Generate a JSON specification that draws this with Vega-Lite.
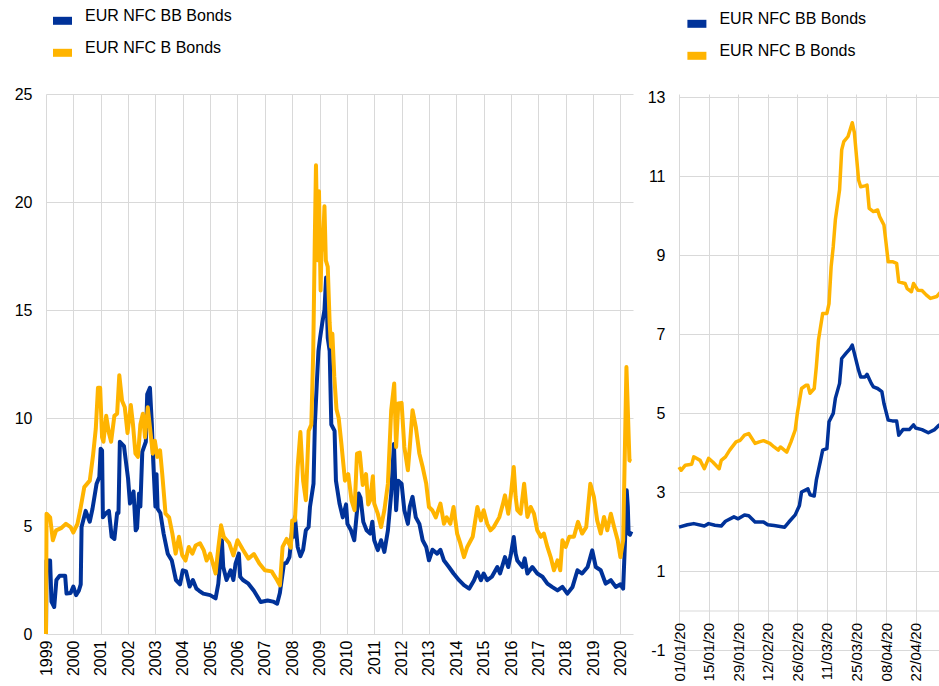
{
  "$schema": "https://vega.github.io/schema/vega-lite/v6.json",
  "background": "white",
  "padding": {"left": 14, "top": 7, "right": 0, "bottom": 0},
  "spacing": 13,
  "config": {
    "font": "Liberation Sans",
    "view": {"stroke": null},
    "axis": {"labelFont": "Liberation Sans", "labelFontSize": 16, "labelColor": "#000000", "gridColor": "#d9d9d9", "gridWidth": 1, "domain": false, "ticks": false, "title": null},
    "legend": {"orient": "none", "direction": "vertical", "title": null, "symbolType": "stroke", "symbolSize": 361, "symbolStrokeWidth": 8, "labelFont": "Liberation Sans", "labelFontSize": 16, "labelColor": "#000000", "labelOffset": 9, "rowPadding": -1, "padding": 0, "labelBaseline": "alphabetic"}
  },
  "resolve": {"legend": {"color": "independent"}},
  "datasets": {
    "hist": [
      {"s": "EUR NFC BB Bonds", "t": 1999.0, "v": 0},
      {"s": "EUR NFC BB Bonds", "t": 1999.02, "v": 3.4},
      {"s": "EUR NFC BB Bonds", "t": 1999.15, "v": 3.4},
      {"s": "EUR NFC BB Bonds", "t": 1999.2, "v": 1.5},
      {"s": "EUR NFC BB Bonds", "t": 1999.3, "v": 1.25},
      {"s": "EUR NFC BB Bonds", "t": 1999.38, "v": 2.5},
      {"s": "EUR NFC BB Bonds", "t": 1999.5, "v": 2.7},
      {"s": "EUR NFC BB Bonds", "t": 1999.7, "v": 2.7},
      {"s": "EUR NFC BB Bonds", "t": 1999.75, "v": 1.87},
      {"s": "EUR NFC BB Bonds", "t": 1999.9, "v": 1.9},
      {"s": "EUR NFC BB Bonds", "t": 2000.0, "v": 2.2},
      {"s": "EUR NFC BB Bonds", "t": 2000.1, "v": 1.8},
      {"s": "EUR NFC BB Bonds", "t": 2000.2, "v": 2.0},
      {"s": "EUR NFC BB Bonds", "t": 2000.27, "v": 2.3},
      {"s": "EUR NFC BB Bonds", "t": 2000.3, "v": 4.95},
      {"s": "EUR NFC BB Bonds", "t": 2000.45, "v": 5.7},
      {"s": "EUR NFC BB Bonds", "t": 2000.6, "v": 5.2},
      {"s": "EUR NFC BB Bonds", "t": 2000.7, "v": 5.8},
      {"s": "EUR NFC BB Bonds", "t": 2000.85, "v": 6.96},
      {"s": "EUR NFC BB Bonds", "t": 2000.95, "v": 7.27},
      {"s": "EUR NFC BB Bonds", "t": 2001.0, "v": 8.58},
      {"s": "EUR NFC BB Bonds", "t": 2001.05, "v": 8.5},
      {"s": "EUR NFC BB Bonds", "t": 2001.08, "v": 5.4},
      {"s": "EUR NFC BB Bonds", "t": 2001.2, "v": 5.6},
      {"s": "EUR NFC BB Bonds", "t": 2001.3, "v": 5.7},
      {"s": "EUR NFC BB Bonds", "t": 2001.4, "v": 4.5},
      {"s": "EUR NFC BB Bonds", "t": 2001.5, "v": 4.4},
      {"s": "EUR NFC BB Bonds", "t": 2001.6, "v": 5.6},
      {"s": "EUR NFC BB Bonds", "t": 2001.65, "v": 5.6},
      {"s": "EUR NFC BB Bonds", "t": 2001.7, "v": 8.9},
      {"s": "EUR NFC BB Bonds", "t": 2001.85, "v": 8.7},
      {"s": "EUR NFC BB Bonds", "t": 2002.0, "v": 7.2},
      {"s": "EUR NFC BB Bonds", "t": 2002.07, "v": 6.04},
      {"s": "EUR NFC BB Bonds", "t": 2002.2, "v": 6.6},
      {"s": "EUR NFC BB Bonds", "t": 2002.28, "v": 4.8},
      {"s": "EUR NFC BB Bonds", "t": 2002.33, "v": 4.9},
      {"s": "EUR NFC BB Bonds", "t": 2002.4, "v": 6.5},
      {"s": "EUR NFC BB Bonds", "t": 2002.45, "v": 5.9},
      {"s": "EUR NFC BB Bonds", "t": 2002.52, "v": 8.43},
      {"s": "EUR NFC BB Bonds", "t": 2002.65, "v": 8.9},
      {"s": "EUR NFC BB Bonds", "t": 2002.7, "v": 11.1},
      {"s": "EUR NFC BB Bonds", "t": 2002.8, "v": 11.4},
      {"s": "EUR NFC BB Bonds", "t": 2002.87, "v": 9.7},
      {"s": "EUR NFC BB Bonds", "t": 2002.92, "v": 8.0},
      {"s": "EUR NFC BB Bonds", "t": 2003.0, "v": 5.9},
      {"s": "EUR NFC BB Bonds", "t": 2003.04, "v": 7.4},
      {"s": "EUR NFC BB Bonds", "t": 2003.08, "v": 5.8},
      {"s": "EUR NFC BB Bonds", "t": 2003.18, "v": 5.6},
      {"s": "EUR NFC BB Bonds", "t": 2003.3, "v": 4.65},
      {"s": "EUR NFC BB Bonds", "t": 2003.45, "v": 3.72},
      {"s": "EUR NFC BB Bonds", "t": 2003.6, "v": 3.4},
      {"s": "EUR NFC BB Bonds", "t": 2003.75, "v": 2.5},
      {"s": "EUR NFC BB Bonds", "t": 2003.9, "v": 2.3},
      {"s": "EUR NFC BB Bonds", "t": 2004.0, "v": 2.95},
      {"s": "EUR NFC BB Bonds", "t": 2004.12, "v": 2.9},
      {"s": "EUR NFC BB Bonds", "t": 2004.25, "v": 2.2},
      {"s": "EUR NFC BB Bonds", "t": 2004.37, "v": 2.5},
      {"s": "EUR NFC BB Bonds", "t": 2004.5, "v": 2.1},
      {"s": "EUR NFC BB Bonds", "t": 2004.6, "v": 2.0},
      {"s": "EUR NFC BB Bonds", "t": 2004.75, "v": 1.87},
      {"s": "EUR NFC BB Bonds", "t": 2005.0, "v": 1.8},
      {"s": "EUR NFC BB Bonds", "t": 2005.2, "v": 1.65},
      {"s": "EUR NFC BB Bonds", "t": 2005.3, "v": 2.33},
      {"s": "EUR NFC BB Bonds", "t": 2005.43, "v": 4.34},
      {"s": "EUR NFC BB Bonds", "t": 2005.48, "v": 3.1},
      {"s": "EUR NFC BB Bonds", "t": 2005.6, "v": 2.5},
      {"s": "EUR NFC BB Bonds", "t": 2005.75, "v": 2.95},
      {"s": "EUR NFC BB Bonds", "t": 2005.85, "v": 2.5},
      {"s": "EUR NFC BB Bonds", "t": 2005.93, "v": 3.26},
      {"s": "EUR NFC BB Bonds", "t": 2006.05, "v": 3.72},
      {"s": "EUR NFC BB Bonds", "t": 2006.1, "v": 2.65},
      {"s": "EUR NFC BB Bonds", "t": 2006.2, "v": 2.5},
      {"s": "EUR NFC BB Bonds", "t": 2006.4, "v": 2.33},
      {"s": "EUR NFC BB Bonds", "t": 2006.6, "v": 2.0},
      {"s": "EUR NFC BB Bonds", "t": 2006.85, "v": 1.48},
      {"s": "EUR NFC BB Bonds", "t": 2007.1, "v": 1.55},
      {"s": "EUR NFC BB Bonds", "t": 2007.3, "v": 1.5},
      {"s": "EUR NFC BB Bonds", "t": 2007.45, "v": 1.4},
      {"s": "EUR NFC BB Bonds", "t": 2007.55, "v": 1.9},
      {"s": "EUR NFC BB Bonds", "t": 2007.7, "v": 3.26},
      {"s": "EUR NFC BB Bonds", "t": 2007.8, "v": 3.3},
      {"s": "EUR NFC BB Bonds", "t": 2007.9, "v": 3.56},
      {"s": "EUR NFC BB Bonds", "t": 2008.0, "v": 4.8},
      {"s": "EUR NFC BB Bonds", "t": 2008.05, "v": 4.5},
      {"s": "EUR NFC BB Bonds", "t": 2008.1, "v": 5.42},
      {"s": "EUR NFC BB Bonds", "t": 2008.2, "v": 4.03},
      {"s": "EUR NFC BB Bonds", "t": 2008.3, "v": 3.6},
      {"s": "EUR NFC BB Bonds", "t": 2008.4, "v": 3.9},
      {"s": "EUR NFC BB Bonds", "t": 2008.5, "v": 4.8},
      {"s": "EUR NFC BB Bonds", "t": 2008.6, "v": 4.95},
      {"s": "EUR NFC BB Bonds", "t": 2008.65, "v": 5.88},
      {"s": "EUR NFC BB Bonds", "t": 2008.78, "v": 6.96},
      {"s": "EUR NFC BB Bonds", "t": 2008.83, "v": 9.7},
      {"s": "EUR NFC BB Bonds", "t": 2008.9, "v": 11.6},
      {"s": "EUR NFC BB Bonds", "t": 2008.96, "v": 13.1},
      {"s": "EUR NFC BB Bonds", "t": 2009.02, "v": 13.7},
      {"s": "EUR NFC BB Bonds", "t": 2009.1, "v": 14.4},
      {"s": "EUR NFC BB Bonds", "t": 2009.18, "v": 15.0},
      {"s": "EUR NFC BB Bonds", "t": 2009.24, "v": 16.5},
      {"s": "EUR NFC BB Bonds", "t": 2009.3, "v": 13.7},
      {"s": "EUR NFC BB Bonds", "t": 2009.37, "v": 13.1},
      {"s": "EUR NFC BB Bonds", "t": 2009.43, "v": 9.7},
      {"s": "EUR NFC BB Bonds", "t": 2009.55, "v": 9.4},
      {"s": "EUR NFC BB Bonds", "t": 2009.6, "v": 7.1},
      {"s": "EUR NFC BB Bonds", "t": 2009.73, "v": 6.04},
      {"s": "EUR NFC BB Bonds", "t": 2009.85, "v": 5.4},
      {"s": "EUR NFC BB Bonds", "t": 2009.97, "v": 6.0},
      {"s": "EUR NFC BB Bonds", "t": 2010.02, "v": 5.1},
      {"s": "EUR NFC BB Bonds", "t": 2010.15, "v": 4.8},
      {"s": "EUR NFC BB Bonds", "t": 2010.27, "v": 4.34},
      {"s": "EUR NFC BB Bonds", "t": 2010.43, "v": 6.5},
      {"s": "EUR NFC BB Bonds", "t": 2010.5, "v": 6.3},
      {"s": "EUR NFC BB Bonds", "t": 2010.6, "v": 5.19},
      {"s": "EUR NFC BB Bonds", "t": 2010.72, "v": 4.8},
      {"s": "EUR NFC BB Bonds", "t": 2010.85, "v": 4.65},
      {"s": "EUR NFC BB Bonds", "t": 2010.93, "v": 5.2},
      {"s": "EUR NFC BB Bonds", "t": 2011.0, "v": 4.34},
      {"s": "EUR NFC BB Bonds", "t": 2011.13, "v": 3.88},
      {"s": "EUR NFC BB Bonds", "t": 2011.25, "v": 4.34},
      {"s": "EUR NFC BB Bonds", "t": 2011.37, "v": 3.8},
      {"s": "EUR NFC BB Bonds", "t": 2011.5, "v": 4.8},
      {"s": "EUR NFC BB Bonds", "t": 2011.62, "v": 6.5},
      {"s": "EUR NFC BB Bonds", "t": 2011.72, "v": 8.8},
      {"s": "EUR NFC BB Bonds", "t": 2011.8, "v": 5.73},
      {"s": "EUR NFC BB Bonds", "t": 2011.87, "v": 7.1},
      {"s": "EUR NFC BB Bonds", "t": 2012.0, "v": 6.96},
      {"s": "EUR NFC BB Bonds", "t": 2012.1, "v": 5.73},
      {"s": "EUR NFC BB Bonds", "t": 2012.23, "v": 5.1},
      {"s": "EUR NFC BB Bonds", "t": 2012.3, "v": 5.9},
      {"s": "EUR NFC BB Bonds", "t": 2012.4, "v": 6.35},
      {"s": "EUR NFC BB Bonds", "t": 2012.52, "v": 5.4},
      {"s": "EUR NFC BB Bonds", "t": 2012.65, "v": 5.1},
      {"s": "EUR NFC BB Bonds", "t": 2012.77, "v": 4.34},
      {"s": "EUR NFC BB Bonds", "t": 2012.9, "v": 4.03},
      {"s": "EUR NFC BB Bonds", "t": 2013.0, "v": 3.41},
      {"s": "EUR NFC BB Bonds", "t": 2013.13, "v": 3.9},
      {"s": "EUR NFC BB Bonds", "t": 2013.3, "v": 3.72},
      {"s": "EUR NFC BB Bonds", "t": 2013.42, "v": 3.9},
      {"s": "EUR NFC BB Bonds", "t": 2013.55, "v": 3.4},
      {"s": "EUR NFC BB Bonds", "t": 2013.73, "v": 3.1},
      {"s": "EUR NFC BB Bonds", "t": 2013.9, "v": 2.8},
      {"s": "EUR NFC BB Bonds", "t": 2014.1, "v": 2.49},
      {"s": "EUR NFC BB Bonds", "t": 2014.28, "v": 2.26},
      {"s": "EUR NFC BB Bonds", "t": 2014.47, "v": 2.1},
      {"s": "EUR NFC BB Bonds", "t": 2014.65, "v": 2.49},
      {"s": "EUR NFC BB Bonds", "t": 2014.77, "v": 2.87},
      {"s": "EUR NFC BB Bonds", "t": 2014.9, "v": 2.49},
      {"s": "EUR NFC BB Bonds", "t": 2015.0, "v": 2.8},
      {"s": "EUR NFC BB Bonds", "t": 2015.13, "v": 2.49},
      {"s": "EUR NFC BB Bonds", "t": 2015.3, "v": 2.65},
      {"s": "EUR NFC BB Bonds", "t": 2015.5, "v": 3.1},
      {"s": "EUR NFC BB Bonds", "t": 2015.6, "v": 2.8},
      {"s": "EUR NFC BB Bonds", "t": 2015.78, "v": 3.56},
      {"s": "EUR NFC BB Bonds", "t": 2015.9, "v": 3.1},
      {"s": "EUR NFC BB Bonds", "t": 2016.0, "v": 3.72},
      {"s": "EUR NFC BB Bonds", "t": 2016.1, "v": 4.49},
      {"s": "EUR NFC BB Bonds", "t": 2016.17, "v": 3.72},
      {"s": "EUR NFC BB Bonds", "t": 2016.23, "v": 3.4},
      {"s": "EUR NFC BB Bonds", "t": 2016.42, "v": 3.1},
      {"s": "EUR NFC BB Bonds", "t": 2016.5, "v": 3.5},
      {"s": "EUR NFC BB Bonds", "t": 2016.6, "v": 2.8},
      {"s": "EUR NFC BB Bonds", "t": 2016.78, "v": 3.1},
      {"s": "EUR NFC BB Bonds", "t": 2016.96, "v": 2.8},
      {"s": "EUR NFC BB Bonds", "t": 2017.15, "v": 2.65},
      {"s": "EUR NFC BB Bonds", "t": 2017.33, "v": 2.33},
      {"s": "EUR NFC BB Bonds", "t": 2017.5, "v": 2.18},
      {"s": "EUR NFC BB Bonds", "t": 2017.7, "v": 2.02},
      {"s": "EUR NFC BB Bonds", "t": 2017.88, "v": 2.18},
      {"s": "EUR NFC BB Bonds", "t": 2018.06, "v": 1.87},
      {"s": "EUR NFC BB Bonds", "t": 2018.25, "v": 2.18},
      {"s": "EUR NFC BB Bonds", "t": 2018.43, "v": 2.95},
      {"s": "EUR NFC BB Bonds", "t": 2018.6, "v": 2.8},
      {"s": "EUR NFC BB Bonds", "t": 2018.8, "v": 3.1},
      {"s": "EUR NFC BB Bonds", "t": 2018.97, "v": 3.87},
      {"s": "EUR NFC BB Bonds", "t": 2019.1, "v": 3.1},
      {"s": "EUR NFC BB Bonds", "t": 2019.28, "v": 2.95},
      {"s": "EUR NFC BB Bonds", "t": 2019.46, "v": 2.33},
      {"s": "EUR NFC BB Bonds", "t": 2019.65, "v": 2.49},
      {"s": "EUR NFC BB Bonds", "t": 2019.83, "v": 2.18},
      {"s": "EUR NFC BB Bonds", "t": 2020.0, "v": 2.3},
      {"s": "EUR NFC BB Bonds", "t": 2020.1, "v": 2.1},
      {"s": "EUR NFC BB Bonds", "t": 2020.15, "v": 3.7},
      {"s": "EUR NFC BB Bonds", "t": 2020.2, "v": 5.4},
      {"s": "EUR NFC BB Bonds", "t": 2020.23, "v": 6.65},
      {"s": "EUR NFC BB Bonds", "t": 2020.27, "v": 5.9},
      {"s": "EUR NFC BB Bonds", "t": 2020.3, "v": 4.65},
      {"s": "EUR NFC BB Bonds", "t": 2020.35, "v": 4.6},
      {"s": "EUR NFC BB Bonds", "t": 2020.4, "v": 4.75},
      {"s": "EUR NFC B Bonds", "t": 1999.0, "v": 0},
      {"s": "EUR NFC B Bonds", "t": 1999.02, "v": 5.57},
      {"s": "EUR NFC B Bonds", "t": 1999.15, "v": 5.4},
      {"s": "EUR NFC B Bonds", "t": 1999.25, "v": 4.34},
      {"s": "EUR NFC B Bonds", "t": 1999.37, "v": 4.8},
      {"s": "EUR NFC B Bonds", "t": 1999.55, "v": 4.9},
      {"s": "EUR NFC B Bonds", "t": 1999.73, "v": 5.1},
      {"s": "EUR NFC B Bonds", "t": 1999.9, "v": 4.95},
      {"s": "EUR NFC B Bonds", "t": 2000.0, "v": 4.7},
      {"s": "EUR NFC B Bonds", "t": 2000.15, "v": 5.1},
      {"s": "EUR NFC B Bonds", "t": 2000.25, "v": 5.73},
      {"s": "EUR NFC B Bonds", "t": 2000.4, "v": 6.8},
      {"s": "EUR NFC B Bonds", "t": 2000.6, "v": 7.1},
      {"s": "EUR NFC B Bonds", "t": 2000.72, "v": 8.27},
      {"s": "EUR NFC B Bonds", "t": 2000.82, "v": 9.5},
      {"s": "EUR NFC B Bonds", "t": 2000.9, "v": 11.4},
      {"s": "EUR NFC B Bonds", "t": 2000.98, "v": 11.4},
      {"s": "EUR NFC B Bonds", "t": 2001.05, "v": 9.1},
      {"s": "EUR NFC B Bonds", "t": 2001.1, "v": 8.9},
      {"s": "EUR NFC B Bonds", "t": 2001.2, "v": 10.1},
      {"s": "EUR NFC B Bonds", "t": 2001.3, "v": 9.3},
      {"s": "EUR NFC B Bonds", "t": 2001.38, "v": 8.9},
      {"s": "EUR NFC B Bonds", "t": 2001.5, "v": 10.1},
      {"s": "EUR NFC B Bonds", "t": 2001.6, "v": 10.2},
      {"s": "EUR NFC B Bonds", "t": 2001.68, "v": 11.98},
      {"s": "EUR NFC B Bonds", "t": 2001.78, "v": 10.8},
      {"s": "EUR NFC B Bonds", "t": 2001.88, "v": 10.5},
      {"s": "EUR NFC B Bonds", "t": 2001.98, "v": 9.3},
      {"s": "EUR NFC B Bonds", "t": 2002.1, "v": 10.6},
      {"s": "EUR NFC B Bonds", "t": 2002.18, "v": 9.7},
      {"s": "EUR NFC B Bonds", "t": 2002.27, "v": 8.35},
      {"s": "EUR NFC B Bonds", "t": 2002.36, "v": 8.2},
      {"s": "EUR NFC B Bonds", "t": 2002.45, "v": 9.7},
      {"s": "EUR NFC B Bonds", "t": 2002.54, "v": 10.2},
      {"s": "EUR NFC B Bonds", "t": 2002.62, "v": 9.1},
      {"s": "EUR NFC B Bonds", "t": 2002.72, "v": 10.5},
      {"s": "EUR NFC B Bonds", "t": 2002.78, "v": 9.8},
      {"s": "EUR NFC B Bonds", "t": 2002.84, "v": 9.1},
      {"s": "EUR NFC B Bonds", "t": 2002.9, "v": 8.35},
      {"s": "EUR NFC B Bonds", "t": 2002.98, "v": 8.95},
      {"s": "EUR NFC B Bonds", "t": 2003.07, "v": 8.2},
      {"s": "EUR NFC B Bonds", "t": 2003.17, "v": 8.5},
      {"s": "EUR NFC B Bonds", "t": 2003.25, "v": 7.4},
      {"s": "EUR NFC B Bonds", "t": 2003.37, "v": 5.57},
      {"s": "EUR NFC B Bonds", "t": 2003.5, "v": 5.4},
      {"s": "EUR NFC B Bonds", "t": 2003.62, "v": 4.65},
      {"s": "EUR NFC B Bonds", "t": 2003.74, "v": 3.72},
      {"s": "EUR NFC B Bonds", "t": 2003.86, "v": 4.5},
      {"s": "EUR NFC B Bonds", "t": 2003.98, "v": 3.65},
      {"s": "EUR NFC B Bonds", "t": 2004.1, "v": 3.4},
      {"s": "EUR NFC B Bonds", "t": 2004.22, "v": 4.03},
      {"s": "EUR NFC B Bonds", "t": 2004.35, "v": 3.72},
      {"s": "EUR NFC B Bonds", "t": 2004.47, "v": 4.1},
      {"s": "EUR NFC B Bonds", "t": 2004.63, "v": 4.2},
      {"s": "EUR NFC B Bonds", "t": 2004.77, "v": 3.87},
      {"s": "EUR NFC B Bonds", "t": 2004.87, "v": 3.4},
      {"s": "EUR NFC B Bonds", "t": 2005.0, "v": 3.72},
      {"s": "EUR NFC B Bonds", "t": 2005.2, "v": 2.8},
      {"s": "EUR NFC B Bonds", "t": 2005.3, "v": 4.0},
      {"s": "EUR NFC B Bonds", "t": 2005.4, "v": 5.03},
      {"s": "EUR NFC B Bonds", "t": 2005.5, "v": 4.5},
      {"s": "EUR NFC B Bonds", "t": 2005.7, "v": 4.2},
      {"s": "EUR NFC B Bonds", "t": 2005.85, "v": 3.64},
      {"s": "EUR NFC B Bonds", "t": 2006.0, "v": 4.34},
      {"s": "EUR NFC B Bonds", "t": 2006.2, "v": 3.9},
      {"s": "EUR NFC B Bonds", "t": 2006.4, "v": 3.49},
      {"s": "EUR NFC B Bonds", "t": 2006.6, "v": 3.7},
      {"s": "EUR NFC B Bonds", "t": 2006.8, "v": 3.26},
      {"s": "EUR NFC B Bonds", "t": 2007.0, "v": 2.95},
      {"s": "EUR NFC B Bonds", "t": 2007.25, "v": 2.9},
      {"s": "EUR NFC B Bonds", "t": 2007.45, "v": 2.49},
      {"s": "EUR NFC B Bonds", "t": 2007.55, "v": 2.25},
      {"s": "EUR NFC B Bonds", "t": 2007.65, "v": 4.03},
      {"s": "EUR NFC B Bonds", "t": 2007.8, "v": 4.4},
      {"s": "EUR NFC B Bonds", "t": 2007.95, "v": 4.0},
      {"s": "EUR NFC B Bonds", "t": 2008.0, "v": 5.26},
      {"s": "EUR NFC B Bonds", "t": 2008.1, "v": 5.26},
      {"s": "EUR NFC B Bonds", "t": 2008.2, "v": 7.73},
      {"s": "EUR NFC B Bonds", "t": 2008.3, "v": 9.35},
      {"s": "EUR NFC B Bonds", "t": 2008.4, "v": 7.1},
      {"s": "EUR NFC B Bonds", "t": 2008.5, "v": 6.19},
      {"s": "EUR NFC B Bonds", "t": 2008.6, "v": 9.4},
      {"s": "EUR NFC B Bonds", "t": 2008.7, "v": 9.7},
      {"s": "EUR NFC B Bonds", "t": 2008.77, "v": 13.1},
      {"s": "EUR NFC B Bonds", "t": 2008.83, "v": 18.5},
      {"s": "EUR NFC B Bonds", "t": 2008.87, "v": 21.7},
      {"s": "EUR NFC B Bonds", "t": 2008.93, "v": 17.3},
      {"s": "EUR NFC B Bonds", "t": 2008.98, "v": 20.5},
      {"s": "EUR NFC B Bonds", "t": 2009.04, "v": 15.9},
      {"s": "EUR NFC B Bonds", "t": 2009.08, "v": 18.3},
      {"s": "EUR NFC B Bonds", "t": 2009.12, "v": 17.8},
      {"s": "EUR NFC B Bonds", "t": 2009.18, "v": 19.8},
      {"s": "EUR NFC B Bonds", "t": 2009.23, "v": 17.3},
      {"s": "EUR NFC B Bonds", "t": 2009.3, "v": 17.0},
      {"s": "EUR NFC B Bonds", "t": 2009.37, "v": 14.4},
      {"s": "EUR NFC B Bonds", "t": 2009.42, "v": 13.3},
      {"s": "EUR NFC B Bonds", "t": 2009.47, "v": 13.9},
      {"s": "EUR NFC B Bonds", "t": 2009.54, "v": 11.9},
      {"s": "EUR NFC B Bonds", "t": 2009.62, "v": 10.4},
      {"s": "EUR NFC B Bonds", "t": 2009.7, "v": 10.0},
      {"s": "EUR NFC B Bonds", "t": 2009.8, "v": 8.8},
      {"s": "EUR NFC B Bonds", "t": 2009.93, "v": 7.1},
      {"s": "EUR NFC B Bonds", "t": 2010.05, "v": 7.4},
      {"s": "EUR NFC B Bonds", "t": 2010.17, "v": 6.19},
      {"s": "EUR NFC B Bonds", "t": 2010.28, "v": 5.73},
      {"s": "EUR NFC B Bonds", "t": 2010.37, "v": 8.35},
      {"s": "EUR NFC B Bonds", "t": 2010.47, "v": 8.4},
      {"s": "EUR NFC B Bonds", "t": 2010.58, "v": 6.9},
      {"s": "EUR NFC B Bonds", "t": 2010.7, "v": 7.4},
      {"s": "EUR NFC B Bonds", "t": 2010.78, "v": 6.0},
      {"s": "EUR NFC B Bonds", "t": 2010.85, "v": 6.19},
      {"s": "EUR NFC B Bonds", "t": 2010.95, "v": 7.3},
      {"s": "EUR NFC B Bonds", "t": 2011.0, "v": 6.04},
      {"s": "EUR NFC B Bonds", "t": 2011.13, "v": 5.57},
      {"s": "EUR NFC B Bonds", "t": 2011.25, "v": 4.95},
      {"s": "EUR NFC B Bonds", "t": 2011.37, "v": 5.73},
      {"s": "EUR NFC B Bonds", "t": 2011.5, "v": 6.96},
      {"s": "EUR NFC B Bonds", "t": 2011.62, "v": 10.36},
      {"s": "EUR NFC B Bonds", "t": 2011.73, "v": 11.6},
      {"s": "EUR NFC B Bonds", "t": 2011.8, "v": 8.66},
      {"s": "EUR NFC B Bonds", "t": 2011.88, "v": 10.67},
      {"s": "EUR NFC B Bonds", "t": 2012.0, "v": 10.7},
      {"s": "EUR NFC B Bonds", "t": 2012.1, "v": 8.66},
      {"s": "EUR NFC B Bonds", "t": 2012.23, "v": 7.58},
      {"s": "EUR NFC B Bonds", "t": 2012.3, "v": 8.66},
      {"s": "EUR NFC B Bonds", "t": 2012.4, "v": 10.36},
      {"s": "EUR NFC B Bonds", "t": 2012.52, "v": 9.58},
      {"s": "EUR NFC B Bonds", "t": 2012.65, "v": 8.35},
      {"s": "EUR NFC B Bonds", "t": 2012.77, "v": 7.73},
      {"s": "EUR NFC B Bonds", "t": 2012.9, "v": 6.96},
      {"s": "EUR NFC B Bonds", "t": 2013.0, "v": 5.88},
      {"s": "EUR NFC B Bonds", "t": 2013.12, "v": 5.73},
      {"s": "EUR NFC B Bonds", "t": 2013.25, "v": 5.4},
      {"s": "EUR NFC B Bonds", "t": 2013.42, "v": 6.04},
      {"s": "EUR NFC B Bonds", "t": 2013.55, "v": 5.1},
      {"s": "EUR NFC B Bonds", "t": 2013.65, "v": 5.4},
      {"s": "EUR NFC B Bonds", "t": 2013.78, "v": 5.1},
      {"s": "EUR NFC B Bonds", "t": 2013.9, "v": 5.88},
      {"s": "EUR NFC B Bonds", "t": 2014.03, "v": 4.65},
      {"s": "EUR NFC B Bonds", "t": 2014.15, "v": 4.18},
      {"s": "EUR NFC B Bonds", "t": 2014.28, "v": 3.56},
      {"s": "EUR NFC B Bonds", "t": 2014.4, "v": 4.03},
      {"s": "EUR NFC B Bonds", "t": 2014.6, "v": 4.5},
      {"s": "EUR NFC B Bonds", "t": 2014.77, "v": 5.88},
      {"s": "EUR NFC B Bonds", "t": 2014.9, "v": 5.26},
      {"s": "EUR NFC B Bonds", "t": 2015.0, "v": 5.73},
      {"s": "EUR NFC B Bonds", "t": 2015.13, "v": 5.1},
      {"s": "EUR NFC B Bonds", "t": 2015.25, "v": 4.8},
      {"s": "EUR NFC B Bonds", "t": 2015.37, "v": 4.95},
      {"s": "EUR NFC B Bonds", "t": 2015.57, "v": 5.4},
      {"s": "EUR NFC B Bonds", "t": 2015.7, "v": 6.0},
      {"s": "EUR NFC B Bonds", "t": 2015.78, "v": 6.42},
      {"s": "EUR NFC B Bonds", "t": 2015.9, "v": 5.57},
      {"s": "EUR NFC B Bonds", "t": 2016.0, "v": 6.5},
      {"s": "EUR NFC B Bonds", "t": 2016.1, "v": 7.73},
      {"s": "EUR NFC B Bonds", "t": 2016.17, "v": 6.35},
      {"s": "EUR NFC B Bonds", "t": 2016.23, "v": 5.73},
      {"s": "EUR NFC B Bonds", "t": 2016.35, "v": 5.57},
      {"s": "EUR NFC B Bonds", "t": 2016.48, "v": 6.96},
      {"s": "EUR NFC B Bonds", "t": 2016.6, "v": 5.42},
      {"s": "EUR NFC B Bonds", "t": 2016.72, "v": 5.88},
      {"s": "EUR NFC B Bonds", "t": 2016.84, "v": 5.57},
      {"s": "EUR NFC B Bonds", "t": 2016.96, "v": 4.8},
      {"s": "EUR NFC B Bonds", "t": 2017.09, "v": 4.5},
      {"s": "EUR NFC B Bonds", "t": 2017.2, "v": 4.65},
      {"s": "EUR NFC B Bonds", "t": 2017.33, "v": 4.03},
      {"s": "EUR NFC B Bonds", "t": 2017.45, "v": 3.56},
      {"s": "EUR NFC B Bonds", "t": 2017.57, "v": 2.95},
      {"s": "EUR NFC B Bonds", "t": 2017.7, "v": 3.41},
      {"s": "EUR NFC B Bonds", "t": 2017.8, "v": 2.95},
      {"s": "EUR NFC B Bonds", "t": 2017.88, "v": 4.34},
      {"s": "EUR NFC B Bonds", "t": 2018.0, "v": 4.03},
      {"s": "EUR NFC B Bonds", "t": 2018.13, "v": 4.5},
      {"s": "EUR NFC B Bonds", "t": 2018.3, "v": 4.5},
      {"s": "EUR NFC B Bonds", "t": 2018.45, "v": 5.19},
      {"s": "EUR NFC B Bonds", "t": 2018.6, "v": 4.65},
      {"s": "EUR NFC B Bonds", "t": 2018.75, "v": 4.95},
      {"s": "EUR NFC B Bonds", "t": 2018.9, "v": 6.96},
      {"s": "EUR NFC B Bonds", "t": 2019.03, "v": 6.35},
      {"s": "EUR NFC B Bonds", "t": 2019.15, "v": 5.26},
      {"s": "EUR NFC B Bonds", "t": 2019.28, "v": 4.65},
      {"s": "EUR NFC B Bonds", "t": 2019.4, "v": 5.42},
      {"s": "EUR NFC B Bonds", "t": 2019.52, "v": 4.8},
      {"s": "EUR NFC B Bonds", "t": 2019.65, "v": 5.57},
      {"s": "EUR NFC B Bonds", "t": 2019.77, "v": 4.95},
      {"s": "EUR NFC B Bonds", "t": 2019.9, "v": 4.34},
      {"s": "EUR NFC B Bonds", "t": 2020.0, "v": 3.56},
      {"s": "EUR NFC B Bonds", "t": 2020.1, "v": 4.34},
      {"s": "EUR NFC B Bonds", "t": 2020.17, "v": 8.97},
      {"s": "EUR NFC B Bonds", "t": 2020.22, "v": 12.36},
      {"s": "EUR NFC B Bonds", "t": 2020.28, "v": 10.0},
      {"s": "EUR NFC B Bonds", "t": 2020.33, "v": 8.04},
      {"s": "EUR NFC B Bonds", "t": 2020.4, "v": 8.0}
    ],
    "covid": [
      {"s": "EUR NFC BB Bonds", "date": "2020-01-01", "v": 2.11},
      {"s": "EUR NFC BB Bonds", "date": "2020-01-05", "v": 2.17},
      {"s": "EUR NFC BB Bonds", "date": "2020-01-08", "v": 2.2},
      {"s": "EUR NFC BB Bonds", "date": "2020-01-13", "v": 2.14},
      {"s": "EUR NFC BB Bonds", "date": "2020-01-15", "v": 2.2},
      {"s": "EUR NFC BB Bonds", "date": "2020-01-18", "v": 2.16},
      {"s": "EUR NFC BB Bonds", "date": "2020-01-21", "v": 2.14},
      {"s": "EUR NFC BB Bonds", "date": "2020-01-23", "v": 2.26},
      {"s": "EUR NFC BB Bonds", "date": "2020-01-27", "v": 2.37},
      {"s": "EUR NFC BB Bonds", "date": "2020-01-29", "v": 2.32},
      {"s": "EUR NFC BB Bonds", "date": "2020-02-01", "v": 2.42},
      {"s": "EUR NFC BB Bonds", "date": "2020-02-03", "v": 2.4},
      {"s": "EUR NFC BB Bonds", "date": "2020-02-06", "v": 2.24},
      {"s": "EUR NFC BB Bonds", "date": "2020-02-10", "v": 2.24},
      {"s": "EUR NFC BB Bonds", "date": "2020-02-12", "v": 2.17},
      {"s": "EUR NFC BB Bonds", "date": "2020-02-15", "v": 2.15},
      {"s": "EUR NFC BB Bonds", "date": "2020-02-20", "v": 2.11},
      {"s": "EUR NFC BB Bonds", "date": "2020-02-22", "v": 2.24},
      {"s": "EUR NFC BB Bonds", "date": "2020-02-25", "v": 2.42},
      {"s": "EUR NFC BB Bonds", "date": "2020-02-27", "v": 2.66},
      {"s": "EUR NFC BB Bonds", "date": "2020-02-28", "v": 3.0},
      {"s": "EUR NFC BB Bonds", "date": "2020-03-02", "v": 3.08},
      {"s": "EUR NFC BB Bonds", "date": "2020-03-03", "v": 2.93},
      {"s": "EUR NFC BB Bonds", "date": "2020-03-05", "v": 2.9},
      {"s": "EUR NFC BB Bonds", "date": "2020-03-06", "v": 3.3},
      {"s": "EUR NFC BB Bonds", "date": "2020-03-08", "v": 3.8},
      {"s": "EUR NFC BB Bonds", "date": "2020-03-09", "v": 4.06},
      {"s": "EUR NFC BB Bonds", "date": "2020-03-11", "v": 4.1},
      {"s": "EUR NFC BB Bonds", "date": "2020-03-12", "v": 4.78},
      {"s": "EUR NFC BB Bonds", "date": "2020-03-14", "v": 4.99},
      {"s": "EUR NFC BB Bonds", "date": "2020-03-15", "v": 5.37},
      {"s": "EUR NFC BB Bonds", "date": "2020-03-17", "v": 5.75},
      {"s": "EUR NFC BB Bonds", "date": "2020-03-18", "v": 6.38},
      {"s": "EUR NFC BB Bonds", "date": "2020-03-20", "v": 6.51},
      {"s": "EUR NFC BB Bonds", "date": "2020-03-22", "v": 6.63},
      {"s": "EUR NFC BB Bonds", "date": "2020-03-23", "v": 6.72},
      {"s": "EUR NFC BB Bonds", "date": "2020-03-24", "v": 6.51},
      {"s": "EUR NFC BB Bonds", "date": "2020-03-26", "v": 6.08},
      {"s": "EUR NFC BB Bonds", "date": "2020-03-27", "v": 5.91},
      {"s": "EUR NFC BB Bonds", "date": "2020-03-29", "v": 5.91},
      {"s": "EUR NFC BB Bonds", "date": "2020-03-30", "v": 5.98},
      {"s": "EUR NFC BB Bonds", "date": "2020-04-01", "v": 5.75},
      {"s": "EUR NFC BB Bonds", "date": "2020-04-02", "v": 5.66},
      {"s": "EUR NFC BB Bonds", "date": "2020-04-04", "v": 5.62},
      {"s": "EUR NFC BB Bonds", "date": "2020-04-06", "v": 5.54},
      {"s": "EUR NFC BB Bonds", "date": "2020-04-07", "v": 5.24},
      {"s": "EUR NFC BB Bonds", "date": "2020-04-09", "v": 4.82},
      {"s": "EUR NFC BB Bonds", "date": "2020-04-11", "v": 4.8},
      {"s": "EUR NFC BB Bonds", "date": "2020-04-13", "v": 4.8},
      {"s": "EUR NFC BB Bonds", "date": "2020-04-14", "v": 4.44},
      {"s": "EUR NFC BB Bonds", "date": "2020-04-16", "v": 4.58},
      {"s": "EUR NFC BB Bonds", "date": "2020-04-19", "v": 4.58},
      {"s": "EUR NFC BB Bonds", "date": "2020-04-21", "v": 4.7},
      {"s": "EUR NFC BB Bonds", "date": "2020-04-22", "v": 4.62},
      {"s": "EUR NFC BB Bonds", "date": "2020-04-25", "v": 4.58},
      {"s": "EUR NFC BB Bonds", "date": "2020-04-28", "v": 4.5},
      {"s": "EUR NFC BB Bonds", "date": "2020-05-01", "v": 4.58},
      {"s": "EUR NFC BB Bonds", "date": "2020-05-03", "v": 4.69},
      {"s": "EUR NFC BB Bonds", "date": "2020-05-04", "v": 4.72},
      {"s": "EUR NFC B Bonds", "date": "2020-01-01", "v": 3.63},
      {"s": "EUR NFC B Bonds", "date": "2020-01-02", "v": 3.55},
      {"s": "EUR NFC B Bonds", "date": "2020-01-04", "v": 3.68},
      {"s": "EUR NFC B Bonds", "date": "2020-01-07", "v": 3.7},
      {"s": "EUR NFC B Bonds", "date": "2020-01-08", "v": 3.89},
      {"s": "EUR NFC B Bonds", "date": "2020-01-11", "v": 3.8},
      {"s": "EUR NFC B Bonds", "date": "2020-01-13", "v": 3.59},
      {"s": "EUR NFC B Bonds", "date": "2020-01-15", "v": 3.85},
      {"s": "EUR NFC B Bonds", "date": "2020-01-17", "v": 3.76},
      {"s": "EUR NFC B Bonds", "date": "2020-01-20", "v": 3.59},
      {"s": "EUR NFC B Bonds", "date": "2020-01-21", "v": 3.8},
      {"s": "EUR NFC B Bonds", "date": "2020-01-23", "v": 3.89},
      {"s": "EUR NFC B Bonds", "date": "2020-01-25", "v": 4.06},
      {"s": "EUR NFC B Bonds", "date": "2020-01-28", "v": 4.27},
      {"s": "EUR NFC B Bonds", "date": "2020-01-30", "v": 4.31},
      {"s": "EUR NFC B Bonds", "date": "2020-02-01", "v": 4.44},
      {"s": "EUR NFC B Bonds", "date": "2020-02-03", "v": 4.48},
      {"s": "EUR NFC B Bonds", "date": "2020-02-06", "v": 4.23},
      {"s": "EUR NFC B Bonds", "date": "2020-02-08", "v": 4.27},
      {"s": "EUR NFC B Bonds", "date": "2020-02-10", "v": 4.3},
      {"s": "EUR NFC B Bonds", "date": "2020-02-13", "v": 4.23},
      {"s": "EUR NFC B Bonds", "date": "2020-02-15", "v": 4.14},
      {"s": "EUR NFC B Bonds", "date": "2020-02-17", "v": 4.06},
      {"s": "EUR NFC B Bonds", "date": "2020-02-18", "v": 4.14},
      {"s": "EUR NFC B Bonds", "date": "2020-02-21", "v": 4.01},
      {"s": "EUR NFC B Bonds", "date": "2020-02-23", "v": 4.27},
      {"s": "EUR NFC B Bonds", "date": "2020-02-25", "v": 4.57},
      {"s": "EUR NFC B Bonds", "date": "2020-02-26", "v": 4.99},
      {"s": "EUR NFC B Bonds", "date": "2020-02-28", "v": 5.62},
      {"s": "EUR NFC B Bonds", "date": "2020-03-01", "v": 5.7},
      {"s": "EUR NFC B Bonds", "date": "2020-03-02", "v": 5.7},
      {"s": "EUR NFC B Bonds", "date": "2020-03-03", "v": 5.5},
      {"s": "EUR NFC B Bonds", "date": "2020-03-05", "v": 5.62},
      {"s": "EUR NFC B Bonds", "date": "2020-03-06", "v": 6.17},
      {"s": "EUR NFC B Bonds", "date": "2020-03-07", "v": 6.84},
      {"s": "EUR NFC B Bonds", "date": "2020-03-09", "v": 7.52},
      {"s": "EUR NFC B Bonds", "date": "2020-03-11", "v": 7.52},
      {"s": "EUR NFC B Bonds", "date": "2020-03-12", "v": 7.77},
      {"s": "EUR NFC B Bonds", "date": "2020-03-13", "v": 8.7},
      {"s": "EUR NFC B Bonds", "date": "2020-03-14", "v": 9.21},
      {"s": "EUR NFC B Bonds", "date": "2020-03-15", "v": 9.89},
      {"s": "EUR NFC B Bonds", "date": "2020-03-17", "v": 10.65},
      {"s": "EUR NFC B Bonds", "date": "2020-03-18", "v": 11.66},
      {"s": "EUR NFC B Bonds", "date": "2020-03-19", "v": 11.87},
      {"s": "EUR NFC B Bonds", "date": "2020-03-21", "v": 12.0},
      {"s": "EUR NFC B Bonds", "date": "2020-03-23", "v": 12.35},
      {"s": "EUR NFC B Bonds", "date": "2020-03-24", "v": 12.1},
      {"s": "EUR NFC B Bonds", "date": "2020-03-26", "v": 10.9},
      {"s": "EUR NFC B Bonds", "date": "2020-03-27", "v": 10.73},
      {"s": "EUR NFC B Bonds", "date": "2020-03-29", "v": 10.75},
      {"s": "EUR NFC B Bonds", "date": "2020-03-30", "v": 10.77},
      {"s": "EUR NFC B Bonds", "date": "2020-03-31", "v": 10.18},
      {"s": "EUR NFC B Bonds", "date": "2020-04-02", "v": 10.1},
      {"s": "EUR NFC B Bonds", "date": "2020-04-04", "v": 10.14},
      {"s": "EUR NFC B Bonds", "date": "2020-04-05", "v": 9.97},
      {"s": "EUR NFC B Bonds", "date": "2020-04-07", "v": 9.76},
      {"s": "EUR NFC B Bonds", "date": "2020-04-08", "v": 9.3},
      {"s": "EUR NFC B Bonds", "date": "2020-04-09", "v": 8.83},
      {"s": "EUR NFC B Bonds", "date": "2020-04-11", "v": 8.83},
      {"s": "EUR NFC B Bonds", "date": "2020-04-13", "v": 8.79},
      {"s": "EUR NFC B Bonds", "date": "2020-04-14", "v": 8.32},
      {"s": "EUR NFC B Bonds", "date": "2020-04-17", "v": 8.28},
      {"s": "EUR NFC B Bonds", "date": "2020-04-18", "v": 8.15},
      {"s": "EUR NFC B Bonds", "date": "2020-04-20", "v": 8.07},
      {"s": "EUR NFC B Bonds", "date": "2020-04-21", "v": 8.28},
      {"s": "EUR NFC B Bonds", "date": "2020-04-23", "v": 8.11},
      {"s": "EUR NFC B Bonds", "date": "2020-04-25", "v": 8.1},
      {"s": "EUR NFC B Bonds", "date": "2020-04-27", "v": 7.99},
      {"s": "EUR NFC B Bonds", "date": "2020-04-29", "v": 7.9},
      {"s": "EUR NFC B Bonds", "date": "2020-05-02", "v": 7.95},
      {"s": "EUR NFC B Bonds", "date": "2020-05-04", "v": 8.07}
    ]
  },
  "hconcat": [
    {
      "width": 587,
      "height": 540,
      "data": {"name": "hist"},
      "mark": {"type": "line", "strokeWidth": 4, "strokeJoin": "round"},
      "encoding": {
        "x": {"field": "t", "type": "quantitative", "scale": {"domain": [1999, 2020.46], "nice": false, "zero": false},
              "axis": {"values": [1999, 2000, 2001, 2002, 2003, 2004, 2005, 2006, 2007, 2008, 2009, 2010, 2011, 2012, 2013, 2014, 2015, 2016, 2017, 2018, 2019, 2020], "format": "d", "labelAngle": -90, "labelAlign": "right", "labelBaseline": "middle", "labelPadding": 6, "labelOverlap": false}},
        "y": {"field": "v", "type": "quantitative", "scale": {"domain": [0, 25], "nice": false},
              "axis": {"values": [0, 5, 10, 15, 20, 25], "labelPadding": 14}},
        "color": {"field": "s", "type": "nominal", "sort": null,
                  "scale": {"domain": ["EUR NFC BB Bonds", "EUR NFC B Bonds"], "range": ["#003299", "#FFB400"]},
                  "legend": {"legendX": 3, "legendY": -86.7}}
      }
    },
    {
      "width": 262,
      "height": 556,
      "data": {"name": "covid"},
      "mark": {"type": "line", "strokeWidth": 3.5, "strokeJoin": "round"},
      "encoding": {
        "x": {"field": "date", "type": "temporal",
              "scale": {"type": "utc", "domain": [{"year": 2020, "month": 1, "date": 1, "utc": true}, {"year": 2020, "month": 5, "date": 4, "utc": true}], "nice": false},
              "axis": {"values": [
                {"year": 2020, "month": 1, "date": 1, "utc": true},
                {"year": 2020, "month": 1, "date": 15, "utc": true},
                {"year": 2020, "month": 1, "date": 29, "utc": true},
                {"year": 2020, "month": 2, "date": 12, "utc": true},
                {"year": 2020, "month": 2, "date": 26, "utc": true},
                {"year": 2020, "month": 3, "date": 11, "utc": true},
                {"year": 2020, "month": 3, "date": 25, "utc": true},
                {"year": 2020, "month": 4, "date": 8, "utc": true},
                {"year": 2020, "month": 4, "date": 22, "utc": true}],
                "labelExpr": "utcFormat(datum.value, '%d/%m/%y')", "labelAngle": -90, "labelAlign": "right", "labelBaseline": "middle", "labelPadding": 12, "labelFontSize": 15, "labelOverlap": false, "offset": -39.5, "domain": true, "domainColor": "#d9d9d9", "domainWidth": 1}},
        "y": {"field": "v", "type": "quantitative", "scale": {"domain": [-1, 13.076], "nice": false, "zero": false},
              "axis": {"values": [-1, 1, 3, 5, 7, 9, 11, 13], "labelExpr": "'' + datum.value", "labelPadding": 14}},
        "color": {"field": "s", "type": "nominal", "sort": null,
                  "scale": {"domain": ["EUR NFC BB Bonds", "EUR NFC B Bonds"], "range": ["#003299", "#FFB400"]},
                  "legend": {"legendX": 4.4, "legendY": -83.7}}
      }
    }
  ]
}
